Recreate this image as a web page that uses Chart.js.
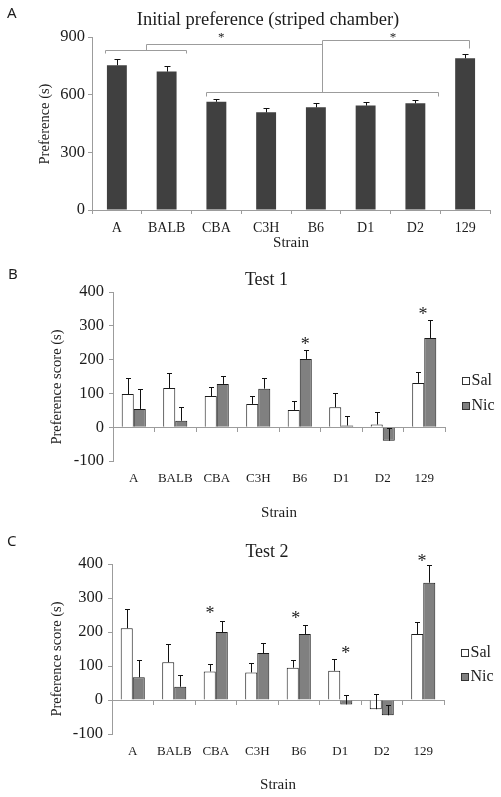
<!DOCTYPE html>
<html>
<head>
<meta charset="utf-8">
<title>Strain preference</title>
<script src="https://cdn.jsdelivr.net/npm/chart.js@4.4.0/dist/chart.umd.min.js"></script>
<style>
    body { margin: 0; width: 501px; height: 797px; background: #fff; position: relative; overflow: hidden; }
    canvas { position: absolute; left: 0; }
</style>
</head>
<body>
<canvas id="chartA" width="501" height="250" style="top:0"></canvas>
<canvas id="chartB" width="501" height="270" style="top:250px"></canvas>
<canvas id="chartC" width="501" height="277" style="top:520px"></canvas>
<script>
const strains = ['A', 'BALB', 'CBA', 'C3H', 'B6', 'D1', 'D2', '129'];

// Panel A - initial preference for striped chamber
const initialPref = [753, 720, 563, 508, 534, 543, 555, 789];
const initialErr = [34, 31, 14, 21, 21, 17, 19, 23];

// Panel B - test 1
const test1Sal = [98, 116, 92, 69, 51, 59, 8, 131];
const test1SalErr = [48, 44, 27, 24, 26, 41, 36, 33];
const test1Nic = [54, 19, 128, 114, 202, 5, -40, 264];
const test1NicErr = [60, 42, 23, 31, 26, 27, 39, 52];

// Panel C - test 2
const test2Sal = [211, 111, 84, 81, 95, 86, -27, 194];
const test2SalErr = [58, 54, 22, 29, 22, 36, 44, 35];
const test2Nic = [67, 39, 200, 138, 194, -13, -45, 345];
const test2NicErr = [51, 35, 32, 31, 26, 28, 30, 52];

// significance marks: [category index, value]
const initialStars = [[2.1, 910], [5.55, 910]];
const test1Stars = [[4.13, 254], [6.97, 342]];
const test2Stars = [[1.86, 263], [3.93, 249], [5.13, 145], [6.97, 415]];

// bracket segments for panel A: [index1, value1, index2, value2]
const initialBrackets = [
    [-0.24, 815, -0.24, 831], [-0.24, 831, 1.39, 831], [1.39, 831, 1.39, 815],
    [0.58, 831, 0.58, 862], [0.58, 862, 4.12, 862],
    [1.785, 594, 1.785, 612], [1.785, 612, 6.46, 612], [6.46, 612, 6.46, 594],
    [4.12, 612, 4.12, 883], [4.12, 883, 7.08, 883], [7.08, 883, 7.08, 842],
];

const SERIF = "'Liberation Serif', 'Times New Roman', serif";
const SANS = "'Noto Sans', 'Liberation Sans', sans-serif";
const AXIS_GREY = '#9c9c9c';
const TEXT = '#1c1c1c';

const errorBars = {
    id: 'errorBars',
    afterDatasetsDraw(chart, args, opts) {
        const { ctx } = chart;
        const y = chart.scales.y;
        ctx.save();
        ctx.strokeStyle = '#111';
        ctx.lineWidth = 1;
        chart.data.datasets.forEach((ds, di) => {
            if (!ds.errors) return;
            const meta = chart.getDatasetMeta(di);
            meta.data.forEach((bar, i) => {
                const x = Math.round(bar.x) + 0.5;
                const top = Math.round(y.getPixelForValue(ds.data[i] + ds.errors[i])) + 0.5;
                ctx.beginPath();
                ctx.moveTo(x, bar.y);
                ctx.lineTo(x, top);
                ctx.moveTo(x - opts.cap, top);
                ctx.lineTo(x + opts.cap, top);
                ctx.stroke();
            });
        });
        ctx.restore();
    },
};

const annotations = {
    id: 'annotations',
    afterDraw(chart, args, opts) {
        const { ctx } = chart;
        const x = chart.scales.x;
        const y = chart.scales.y;
        ctx.save();
        ctx.strokeStyle = AXIS_GREY;
        ctx.lineWidth = 1;
        (opts.brackets || []).forEach(([i1, v1, i2, v2]) => {
            ctx.beginPath();
            ctx.moveTo(Math.round(x.getPixelForValue(i1)) + 0.5, Math.round(y.getPixelForValue(v1)) + 0.5);
            ctx.lineTo(Math.round(x.getPixelForValue(i2)) + 0.5, Math.round(y.getPixelForValue(v2)) + 0.5);
            ctx.stroke();
        });
        ctx.fillStyle = TEXT;
        ctx.font = `${opts.starSize}px ${SERIF}`;
        ctx.textAlign = 'center';
        ctx.textBaseline = 'alphabetic';
        (opts.stars || []).forEach(([i, v]) => {
            ctx.fillText('*', x.getPixelForValue(i), y.getPixelForValue(v) + opts.starSize * 0.47);
        });
        ctx.restore();
    },
};

const panelText = {
    id: 'panelText',
    afterDraw(chart, args, o) {
        const { ctx, chartArea } = chart;
        ctx.save();
        ctx.fillStyle = TEXT;

        ctx.font = `15px ${SANS}`;
        ctx.textAlign = 'left';
        ctx.textBaseline = 'middle';
        ctx.fillText(o.letter, o.letterX, o.letterY);

        ctx.font = `${o.titleSize}px ${SERIF}`;
        ctx.textAlign = 'center';
        ctx.textBaseline = 'alphabetic';
        ctx.fillText(o.title, o.titleX, o.titleY);

        ctx.font = `15px ${SERIF}`;
        ctx.textBaseline = 'middle';
        ctx.fillText('Strain', (chartArea.left + chartArea.right) / 2, o.xTitleY);

        ctx.save();
        ctx.translate(o.yTitleX, o.yTitleY);
        ctx.rotate(-Math.PI / 2);
        ctx.font = `14.5px ${SERIF}`;
        ctx.fillText(o.yTitle, 0, 0);
        ctx.restore();

        if (o.legend) {
            ctx.font = `16px ${SERIF}`;
            ctx.textAlign = 'left';
            chart.data.datasets.forEach((ds, i) => {
                const ly = o.legendY + i * o.legendGap;
                ctx.fillStyle = ds.backgroundColor;
                ctx.fillRect(o.legendX, ly - 4, 8, 8);
                ctx.strokeStyle = '#333';
                ctx.lineWidth = 1;
                ctx.strokeRect(o.legendX + 0.5, ly - 3.5, 7, 7);
                ctx.fillStyle = TEXT;
                ctx.fillText(ds.label, o.legendX + 9.5, ly);
            });
        }
        ctx.restore();
    },
};

function yAxis(min, max, step, width, padding) {
    return {
        min, max,
        ticks: { stepSize: step, padding, color: TEXT, font: { family: SERIF, size: 16.5 } },
        grid: { drawOnChartArea: false, tickLength: 4, color: AXIS_GREY },
        border: { color: AXIS_GREY },
        afterFit: s => { s.width = width; },
    };
}

new Chart(document.getElementById('chartA'), {
    type: 'bar',
    data: {
        labels: strains,
        datasets: [{
            label: 'Initial preference',
            data: initialPref,
            errors: initialErr,
            backgroundColor: '#404040',
            categoryPercentage: 0.4,
            barPercentage: 1,
        }],
    },
    options: {
        responsive: false,
        animation: false,
        layout: { padding: { top: 37, right: 11, left: 0, bottom: 0 } },
        scales: {
            x: {
                grid: { drawOnChartArea: false, tickLength: 4, color: AXIS_GREY, offset: true },
                border: { color: AXIS_GREY },
                ticks: { padding: 6, color: TEXT, maxRotation: 0, autoSkip: false, font: { family: SERIF, size: 14 } },
                afterFit: s => { s.height = 40; },
            },
            y: yAxis(0, 900, 300, 92, 3),
        },
        plugins: {
            legend: { display: false },
            tooltip: { enabled: false },
            errorBars: { cap: 3 },
            annotations: { brackets: initialBrackets, stars: initialStars, starSize: 13 },
            panelText: {
                letter: 'A', letterX: 7, letterY: 14,
                title: 'Initial preference (striped chamber)', titleSize: 18.5, titleX: 268, titleY: 24.5,
                xTitleY: 243, yTitle: 'Preference (s)', yTitleX: 45, yTitleY: 124,
            },
        },
    },
    plugins: [errorBars, annotations, panelText],
});

function testChart(id, sal, salErr, nic, nicErr, stars, geom) {
    new Chart(document.getElementById(id), {
        type: 'bar',
        data: {
            labels: strains,
            datasets: [
                {
                    label: 'Sal', data: sal, errors: salErr,
                    backgroundColor: '#ffffff', borderColor: '#1a1a1a', borderWidth: 1,
                    categoryPercentage: 0.58, barPercentage: 1,
                },
                {
                    label: 'Nic', data: nic, errors: nicErr,
                    backgroundColor: '#808080', borderColor: '#1a1a1a', borderWidth: 1,
                    categoryPercentage: 0.58, barPercentage: 1,
                },
            ],
        },
        options: {
            responsive: false,
            animation: false,
            layout: { padding: { top: geom.top, right: geom.right, left: 0, bottom: 0 } },
            scales: {
                x: {
                    grid: { display: false, drawTicks: false },
                    border: { display: false },
                    ticks: { padding: 9.5, color: TEXT, maxRotation: 0, autoSkip: false, font: { family: SERIF, size: 13 } },
                    afterFit: s => { s.height = geom.xHeight; },
                },
                zero: {
                    axis: 'x',
                    type: 'category',
                    position: { y: 0 },
                    offset: true,
                    grid: { drawOnChartArea: false, tickLength: 4, color: AXIS_GREY, offset: true },
                    border: { color: AXIS_GREY },
                    ticks: { display: false },
                },
                y: yAxis(-100, 400, 100, geom.left, 5),
            },
            plugins: {
                legend: { display: false },
                tooltip: { enabled: false },
                errorBars: { cap: 2.5 },
                annotations: { stars, starSize: 18 },
                panelText: geom.text,
            },
        },
        plugins: [errorBars, annotations, panelText],
    });
}

testChart('chartB', test1Sal, test1SalErr, test1Nic, test1NicErr, test1Stars, {
    top: 42, right: 56, left: 113, xHeight: 59,
    text: {
        letter: 'B', letterX: 8, letterY: 25,
        title: 'Test 1', titleSize: 18, titleX: 266.5, titleY: 34.5,
        xTitleY: 263, yTitle: 'Preference score (s)', yTitleX: 57, yTitleY: 137,
        legend: true, legendX: 462, legendY: 131, legendGap: 25,
    },
});

testChart('chartC', test2Sal, test2SalErr, test2Nic, test2NicErr, test2Stars, {
    top: 44, right: 57, left: 112, xHeight: 63,
    text: {
        letter: 'C', letterX: 7, letterY: 22,
        title: 'Test 2', titleSize: 18, titleX: 267, titleY: 36.5,
        xTitleY: 265.5, yTitle: 'Preference score (s)', yTitleX: 57, yTitleY: 139,
        legend: true, legendX: 461, legendY: 133, legendGap: 24,
    },
});
</script>
</body>
</html>
